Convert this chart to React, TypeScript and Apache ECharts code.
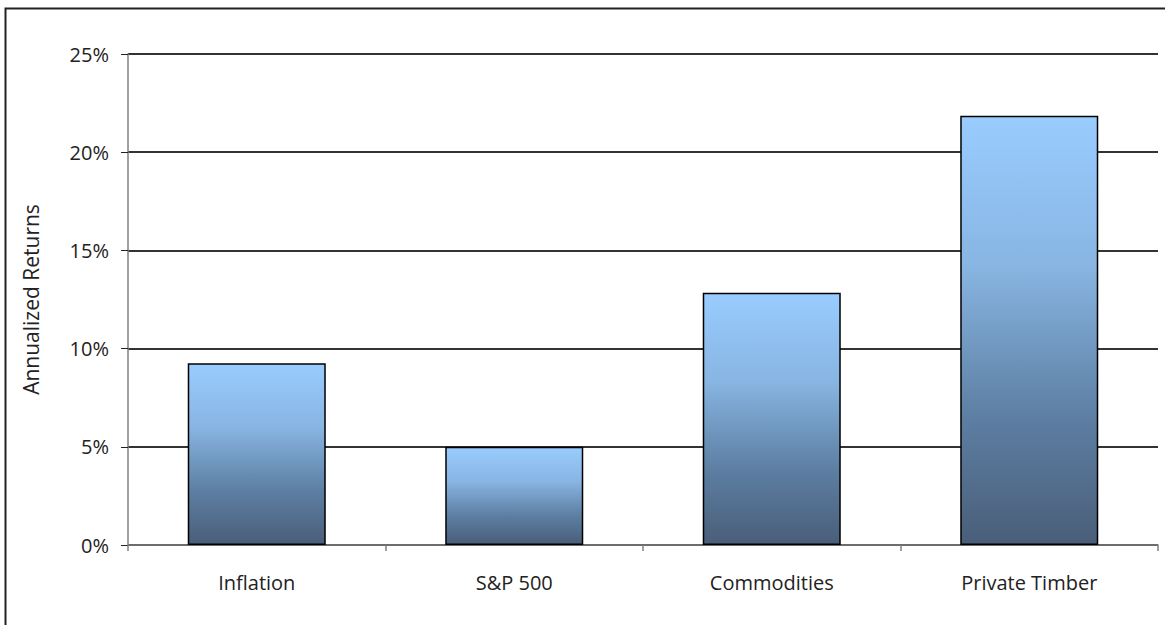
import React, { useEffect, useRef } from "react";
import * as echarts from "echarts";

const categories = ["Inflation", "S&P 500", "Commodities", "Private Timber"];
const returns = [9.25, 5.0, 12.85, 21.85];
const yTicks = [0, 5, 10, 15, 20, 25];
const yAxisTitle = "Annualized Returns";

const FONT = "'Open Sans', Lato, sans-serif";

export default function App() {
  const ref = useRef<HTMLDivElement>(null);
  useEffect(() => {
    document.body.style.margin = "0";
    const chart = echarts.init(ref.current!, null, { renderer: "svg" });
    chart.setOption({
      animation: false,
      backgroundColor: "#fff",
      graphic: [
        {
          type: "rect",
          shape: { x: 5.5, y: 8.5, width: 1200, height: 700 },
          style: { fill: "none", stroke: "#222", lineWidth: 2 },
          z: 100,
        },
      ],
      grid: { left: 128, right: 7, top: 54, bottom: 80 },
      xAxis: {
        type: "category",
        data: categories,
        axisLine: { lineStyle: { color: "#808080", width: 1.5 } },
        axisTick: { show: true, length: 6, lineStyle: { color: "#808080", width: 1.5 } },
        axisLabel: { color: "#222", fontSize: 20, fontFamily: FONT, margin: 27 },
      },
      yAxis: {
        type: "value",
        min: yTicks[0],
        max: yTicks[yTicks.length - 1],
        interval: 5,
        name: yAxisTitle,
        nameLocation: "middle",
        nameGap: 87,
        nameTextStyle: { color: "#222", fontSize: 21, fontFamily: FONT },
        axisLine: { show: true, lineStyle: { color: "#808080", width: 1.5 } },
        axisTick: { show: true, length: 7, lineStyle: { color: "#222", width: 1 } },
        axisLabel: {
          color: "#222",
          fontSize: 20,
          fontFamily: FONT,
          margin: 19,
          formatter: (v: number) => v + "%",
        },
        splitLine: { show: true, lineStyle: { color: "#333", width: 2 } },
      },
      series: [
        {
          type: "bar",
          data: returns,
          barWidth: "53.6%",
          itemStyle: {
            borderColor: "#000",
            borderWidth: 1.5,
            color: new echarts.graphic.LinearGradient(0, 0, 0, 1, [
              { offset: 0, color: "#99CCFF" },
              { offset: 0.35, color: "#88B5E2" },
              { offset: 0.7, color: "#5D7FA3" },
              { offset: 1, color: "#4A5E79" },
            ]),
          },
        },
      ],
    });
    return () => chart.dispose();
  }, []);
  return <div ref={ref} style={{ width: 1165, height: 625 }} />;
}
